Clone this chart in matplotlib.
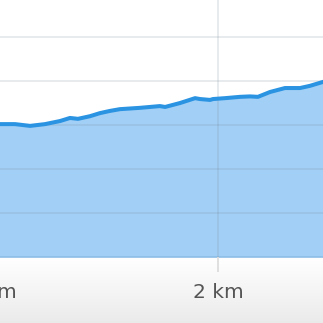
import numpy as np
import matplotlib.pyplot as plt

# distance along route (km) and elevation (m)
dist_km = [0.86, 1.00, 1.040, 1.106, 1.172, 1.238, 1.304, 1.348, 1.383, 1.436,
           1.480, 1.524, 1.568, 1.656, 1.700, 1.744, 1.767, 1.833, 1.899,
           1.921, 1.965, 1.978, 2.031, 2.097, 2.141, 2.176, 2.229, 2.295,
           2.361, 2.405, 2.463, 2.55, 2.64]
elev_m = [30.0, 30.1, 30.2, 30.2, 29.8, 30.2, 30.9, 31.6, 31.4, 32.0,
          32.7, 33.2, 33.6, 33.9, 34.1, 34.3, 34.1, 35.0, 36.1,
          35.9, 35.7, 35.9, 36.1, 36.4, 36.5, 36.4, 37.5, 38.4,
          38.4, 38.9, 39.8, 41.0, 41.8]
tick_km = [1, 2]
tick_labels = ["1 km", "2 km"]

fig = plt.figure(figsize=(3.23, 3.23), dpi=100)

# soft gray gradient behind the axis labels (white -> light gray)
bg = fig.add_axes([0, 0, 1, 1], zorder=0)
t = np.linspace(0, 1, 256)
shade = np.clip((t - 0.80) / 0.20, 0, 1) * 0.08
rgb = np.repeat((1 - shade)[:, None, None], 3, axis=2)
bg.imshow(rgb, aspect="auto", extent=[0, 1, 0, 1], origin="upper")
bg.set_xlim(0, 1)
bg.set_ylim(0, 1)
bg.axis("off")

# axes reaches past both edges of the picture, like a cropped screenshot
ax = fig.add_axes([-40 / 323, 66 / 323, 403 / 323, 257 / 323], zorder=1)
ax.patch.set_facecolor("white")
ax.fill_between(dist_km, elev_m, 0, color="#a1cff5", lw=0, zorder=1)
ax.plot(dist_km, elev_m, color="#2a93e2", lw=2.9, solid_capstyle="round",
        zorder=3)

ax.set_xlim(1 - 31 / 227, 1 + 372 / 227)
ax.set_ylim(0, 257 / 4.4)
ax.set_yticks([10, 20, 30, 40, 50])
ax.set_xticks(tick_km)
ax.set_xticklabels(tick_labels)
ax.grid(True, color="#7a8a9a", alpha=0.2, lw=1.2, zorder=2)
ax.set_axisbelow(False)

for side in ["top", "left", "right"]:
    ax.spines[side].set_visible(False)
ax.spines["bottom"].set_color("#8cbde6")
ax.spines["bottom"].set_linewidth(1.2)

ax.tick_params(axis="y", left=False, labelleft=False)
ax.tick_params(axis="x", length=11, width=1.3, color="#dddddd", pad=8,
               labelsize=14.5, labelcolor="#555555")

fig.savefig("out.png", dpi=100)
